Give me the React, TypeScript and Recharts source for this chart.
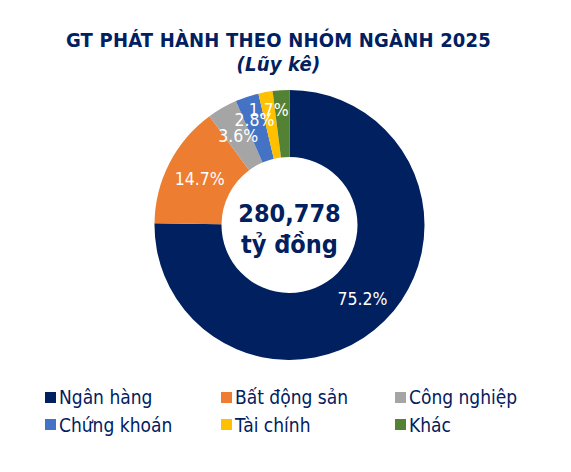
import { PieChart, Pie, Cell, Legend } from "recharts";

const categories = ["Ngân hàng", "Bất động sản", "Công nghiệp", "Chứng khoán", "Tài chính", "Khác"];
const shares = [75.2, 14.7, 3.6, 2.8, 1.7, 2.0];
const showLabel = [true, true, true, true, true, false];
const colors = ["#002060", "#ED7D31", "#A5A5A5", "#4472C4", "#FFC000", "#548235"];
const titleText = "GT PHÁT HÀNH THEO NHÓM NGÀNH 2025";
const subtitleText = "(Lũy kê)";
const totalValue = "280,778";
const totalUnit = "tỷ đồng";

// how far from the centre each slice label sits (Excel nudged the small ones out)
const labelRadius = [104, 101, 103, 111, 117, 100];

const FONT = "'DejaVu Sans Condensed', 'DejaVu Sans', sans-serif";
const NAVY = "#002060";
const RAD = Math.PI / 180;

const data = categories.map((name, i) => ({ name, value: shares[i] }));

function SliceLabel(props: any) {
  const { cx, cy, midAngle, index } = props;
  if (!showLabel[index]) return null;
  const r = labelRadius[index];
  const x = cx + r * Math.cos(-midAngle * RAD);
  const y = cy + r * Math.sin(-midAngle * RAD);
  return (
    <text
      x={x}
      y={y}
      fill="#fff"
      textAnchor="middle"
      dominantBaseline="central"
      style={{ fontFamily: FONT, fontSize: 17.5 }}
    >
      {`${shares[index].toFixed(1)}%`}
    </text>
  );
}

const legendCols = [45, 221, 395];

function LegendContent() {
  return (
    <div style={{ position: "relative", width: 571, height: 60, fontFamily: FONT }}>
      {categories.map((name, i) => {
        const col = i % 3;
        const row = Math.floor(i / 3);
        return (
          <div
            key={name}
            style={{
              position: "absolute",
              left: legendCols[col],
              top: row * 27.5,
              height: 22,
              display: "flex",
              alignItems: "center",
              whiteSpace: "nowrap",
            }}
          >
            <span style={{ width: 11, height: 11, background: colors[i], display: "inline-block", marginRight: 3 }} />
            <span style={{ fontSize: 19, color: NAVY }}>{name}</span>
          </div>
        );
      })}
    </div>
  );
}

export default function App() {
  return (
    <div style={{ position: "absolute", left: 0, top: 0, width: 571, height: 472, background: "#fff" }}>
      <div
        style={{
          position: "absolute",
          top: 28,
          left: 0,
          width: 557,
          textAlign: "center",
          fontFamily: FONT,
          fontWeight: "bold",
          fontSize: 20,
          letterSpacing: 0.2,
          color: NAVY,
          lineHeight: "24px",
        }}
      >
        <div>{titleText}</div>
        <div style={{ fontStyle: "italic" }}>{subtitleText}</div>
      </div>
      <PieChart width={571} height={472} style={{ position: "absolute", left: 0, top: 0 }}>
        <Pie
          data={data}
          dataKey="value"
          nameKey="name"
          cx={284.5}
          cy={220}
          innerRadius={68}
          outerRadius={135}
          startAngle={90}
          endAngle={-270}
          stroke="none"
          label={SliceLabel}
          labelLine={false}
          isAnimationActive={false}
        >
          {data.map((d, i) => (
            <Cell key={d.name} fill={colors[i]} />
          ))}
        </Pie>
        <Legend
          content={<LegendContent />}
          wrapperStyle={{ position: "absolute", left: 0, top: 386, width: 571 }}
        />
      </PieChart>
      <div
        style={{
          position: "absolute",
          left: 209.5,
          top: 198,
          width: 160,
          textAlign: "center",
          fontFamily: FONT,
          fontWeight: "bold",
          fontSize: 25,
          lineHeight: "31px",
          color: NAVY,
        }}
      >
        <div>{totalValue}</div>
        <div>{totalUnit}</div>
      </div>
    </div>
  );
}
